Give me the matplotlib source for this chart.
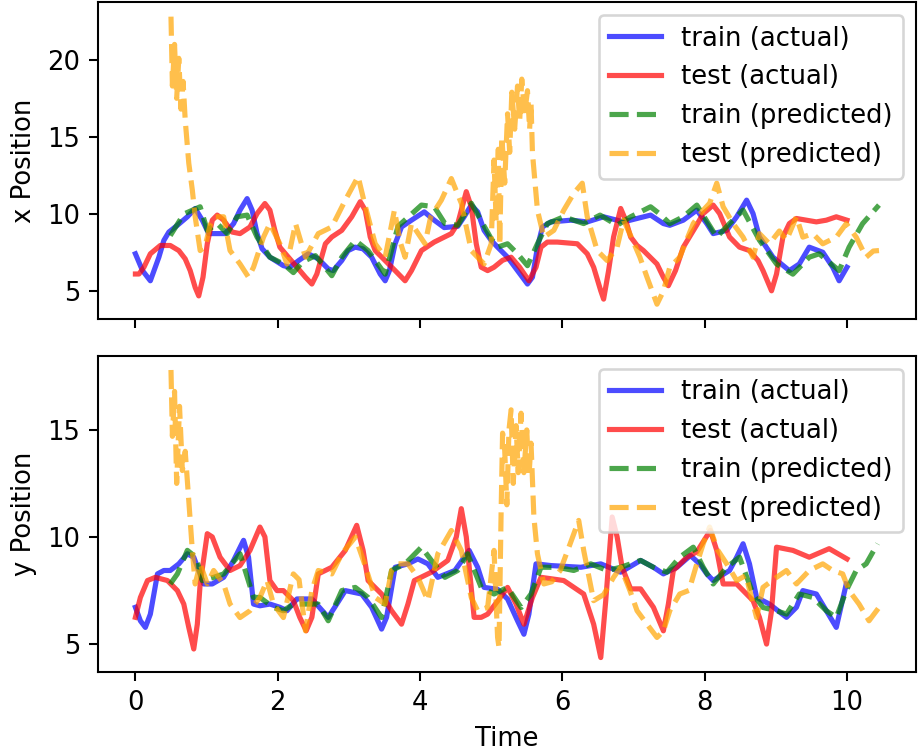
import matplotlib
matplotlib.use('Agg')
import matplotlib.pyplot as plt

###############################################################################
# Data
###############################################################################
# x position, train (actual)
t_x_train = [0.00, 0.10, 0.21, 0.33, 0.40, 0.47, 0.59, 0.73, 0.84, 0.94, 1.03,
             1.26, 1.38, 1.47, 1.57, 1.64, 1.71, 1.78, 1.89, 2.08, 2.17, 2.30,
             2.43, 2.57, 2.71, 2.78, 2.90, 2.99, 3.09, 3.20, 3.32, 3.44, 3.51,
             3.57, 3.65, 3.74, 3.88, 4.06, 4.20, 4.34, 4.53, 4.62, 4.72, 4.81,
             4.90, 5.00, 5.09, 5.23, 5.37, 5.51, 5.58, 5.65, 5.72, 5.84, 6.12,
             6.35, 6.58, 6.86, 7.05, 7.24, 7.42, 7.51, 7.70, 7.89, 8.03, 8.12,
             8.31, 8.45, 8.59, 8.68, 8.77, 8.96, 9.19, 9.33, 9.47, 9.66, 9.80,
             9.89, 10.00]
x_train = [7.42, 6.33, 5.67, 7.20, 8.29, 8.83, 9.27, 9.82, 10.36, 9.60, 8.73,
           8.73, 9.38, 10.25, 11.00, 10.25, 8.73, 7.75, 7.20, 6.65, 6.55, 7.00,
           7.42, 7.09, 6.44, 6.33, 6.98, 7.63, 7.85, 7.74, 7.20, 6.11, 5.67,
           6.33, 8.07, 9.16, 9.60, 10.14, 9.60, 9.12, 9.20, 9.82, 10.58, 10.14,
           8.94, 8.29, 7.85, 7.20, 6.33, 5.46, 5.90, 7.85, 9.16, 9.49, 9.60,
           9.49, 9.82, 9.49, 9.71, 9.93, 9.38, 9.27, 9.60, 10.25, 9.38, 8.73,
           8.94, 9.82, 10.90, 10.03, 8.51, 7.20, 6.33, 6.76, 7.85, 7.52, 6.55,
           5.67, 6.55]

# x position, test (actual)
t_x_test = [0.00, 0.05, 0.12, 0.21, 0.35, 0.49, 0.61, 0.70, 0.77, 0.84, 0.89,
            0.95, 1.01, 1.08, 1.15, 1.24, 1.36, 1.47, 1.61, 1.71, 1.82, 1.89,
            1.96, 2.03, 2.15, 2.28, 2.39, 2.48, 2.55, 2.67, 2.76, 2.90, 3.04,
            3.16, 3.23, 3.30, 3.37, 3.51, 3.65, 3.79, 3.88, 4.02, 4.20, 4.44,
            4.53, 4.65, 4.72, 4.79, 4.86, 4.95, 5.04, 5.16, 5.28, 5.40, 5.53,
            5.63, 5.70, 5.79, 5.93, 6.21, 6.35, 6.44, 6.54, 6.58, 6.65, 6.72,
            6.82, 6.89, 6.96, 7.05, 7.14, 7.33, 7.42, 7.49, 7.59, 7.70, 7.89,
            7.98, 8.12, 8.21, 8.35, 8.49, 8.63, 8.75, 8.82, 8.94, 9.01, 9.10,
            9.19, 9.29, 9.43, 9.57, 9.71, 9.85, 10.00]
x_test = [6.11, 6.11, 6.55, 7.42, 7.96, 7.96, 7.63, 7.09, 6.33, 5.24, 4.69,
          5.90, 8.07, 9.60, 9.93, 9.60, 8.83, 8.73, 9.16, 10.03, 10.68, 10.25,
          8.94, 7.85, 7.20, 6.50, 5.90, 5.46, 6.11, 8.07, 8.51, 8.94, 9.82,
          10.80, 10.25, 8.51, 7.63, 6.98, 6.33, 5.67, 6.33, 7.63, 8.18, 8.73,
          9.38, 11.45, 10.47, 8.07, 6.55, 6.33, 6.55, 7.00, 7.20, 6.55, 5.67,
          6.55, 7.85, 8.18, 8.18, 8.07, 7.42, 6.55, 5.02, 4.48, 6.33, 8.51,
          10.36, 9.60, 8.51, 7.96, 7.63, 6.76, 5.90, 5.35, 6.33, 7.85, 9.30,
          10.03, 10.58, 10.03, 8.51, 7.85, 7.63, 6.98, 6.33, 5.02, 6.11, 8.51,
          9.38, 9.71, 9.60, 9.49, 9.60, 9.82, 9.60]

# x position, train (predicted)
t_x_train_pred = [0.49, 0.68, 0.91, 1.01, 1.15, 1.29, 1.43, 1.57, 1.71, 1.89,
                  2.08, 2.22, 2.35, 2.53, 2.76, 2.90, 3.09, 3.27, 3.51, 3.69,
                  4.02, 4.20, 4.35, 4.53, 4.72, 5.00, 5.09, 5.23, 5.37, 5.51,
                  5.65, 5.79, 6.02, 6.30, 6.53, 6.77, 6.96, 7.24, 7.37, 7.51,
                  7.70, 7.89, 8.17, 8.35, 8.54, 8.77, 9.01, 9.24, 9.47, 9.61,
                  9.89, 10.03, 10.22, 10.45]
x_train_pred = [8.60, 10.00, 10.47, 8.94, 9.38, 8.73, 9.82, 9.93, 8.50, 7.20,
                6.76, 6.20, 6.90, 7.30, 6.00, 7.20, 8.29, 7.63, 6.10, 9.20,
                10.58, 10.47, 9.38, 9.27, 10.70, 8.40, 7.85, 8.07, 7.42, 6.65,
                8.07, 9.38, 9.82, 9.38, 9.93, 9.27, 9.82, 10.47, 10.00, 9.38,
                9.82, 10.58, 8.50, 9.38, 10.25, 8.30, 6.76, 6.10, 7.20, 7.42,
                6.33, 7.85, 9.38, 10.58]

# x position, test (predicted)
t_x_test_pred = [0.50, 0.52, 0.55, 0.58, 0.61, 0.64, 0.67, 0.70, 0.75, 0.80,
                 0.84, 0.91, 0.98, 1.05, 1.12, 1.24, 1.33, 1.47, 1.59, 1.66,
                 1.80, 1.89, 2.03, 2.13, 2.25, 2.39, 2.57, 2.76, 2.95, 3.13,
                 3.22, 3.37, 3.51, 3.64, 3.72, 3.79, 3.88, 4.07, 4.15, 4.30,
                 4.44, 4.58, 4.72, 4.90, 5.00, 5.04, 5.07, 5.10, 5.12, 5.15,
                 5.19, 5.23, 5.26, 5.29, 5.33, 5.37, 5.40, 5.43, 5.47, 5.51,
                 5.54, 5.56, 5.58, 5.65, 5.74, 5.88, 6.02, 6.16, 6.28, 6.35,
                 6.49, 6.63, 6.77, 6.86, 6.96, 7.09, 7.19, 7.33, 7.42, 7.51,
                 7.65, 7.84, 7.98, 8.07, 8.17, 8.26, 8.40, 8.54, 8.68, 8.77,
                 8.91, 9.05, 9.15, 9.29, 9.38, 9.52, 9.66, 9.85, 9.99, 10.13,
                 10.27, 10.37, 10.45]
x_test_pred = [22.8, 18.3, 21.0, 17.5, 20.1, 16.8, 18.6, 16.1, 13.3, 11.55,
               9.82, 7.63, 7.90, 9.30, 9.82, 9.82, 7.63, 6.76, 5.90, 6.55,
               8.50, 9.38, 8.07, 6.76, 9.38, 7.20, 8.73, 9.16, 10.90, 12.43,
               10.70, 8.07, 7.20, 10.25, 8.20, 7.20, 9.38, 8.07, 9.82, 10.90,
               12.30, 10.70, 7.63, 6.76, 8.07, 13.5, 9.5, 14.2, 8.0, 15.0,
               12.0, 16.5, 14.0, 17.9, 15.5, 18.3, 16.0, 18.75, 16.5, 18.0,
               15.5, 17.2, 13.95, 10.25, 8.50, 8.94, 10.25, 11.34, 12.00, 9.82,
               7.63, 6.98, 7.85, 9.60, 8.60, 7.20, 5.90, 4.15, 5.00, 6.55,
               7.20, 9.38, 10.25, 10.70, 12.00, 10.47, 9.38, 8.50, 7.20, 8.73,
               8.07, 8.90, 8.30, 9.82, 8.50, 8.73, 8.07, 8.50, 9.38, 8.50,
               7.20, 7.60, 7.63]

# y position, train (actual)
t_y_train = [0.00, 0.07, 0.14, 0.21, 0.31, 0.40, 0.49, 0.61, 0.73, 0.82, 0.89,
             0.96, 1.08, 1.24, 1.38, 1.52, 1.59, 1.66, 1.75, 1.89, 2.03, 2.13,
             2.27, 2.48, 2.71, 2.83, 2.95, 3.18, 3.32, 3.46, 3.53, 3.65, 3.83,
             3.97, 4.11, 4.25, 4.49, 4.69, 4.81, 4.90, 5.09, 5.23, 5.37, 5.46,
             5.53, 5.63, 5.84, 6.26, 6.54, 6.82, 7.10, 7.28, 7.42, 7.61, 7.80,
             7.93, 8.03, 8.12, 8.35, 8.45, 8.54, 8.63, 8.73, 8.91, 9.15, 9.29,
             9.38, 9.57, 9.71, 9.85, 9.99]
y_train = [6.71, 6.08, 5.77, 6.39, 8.27, 8.43, 8.43, 8.74, 9.21, 9.05, 8.43,
           7.80, 7.80, 8.11, 8.90, 9.84, 9.05, 6.86, 6.78, 6.86, 6.71, 6.55,
           7.10, 7.10, 6.24, 6.86, 7.49, 7.33, 6.71, 5.69, 6.24, 8.58, 8.74,
           8.97, 8.74, 8.11, 8.43, 9.37, 8.58, 7.64, 7.55, 7.10, 6.08, 5.45,
           6.39, 8.74, 8.66, 8.58, 8.74, 8.35, 8.90, 8.58, 8.27, 8.58, 9.13,
           8.74, 8.27, 7.96, 8.43, 9.05, 9.68, 8.74, 7.17, 6.86, 6.24, 6.71,
           7.49, 7.33, 6.55, 5.77, 7.80]

# y position, test (actual)
t_y_test = [0.00, 0.07, 0.17, 0.28, 0.45, 0.59, 0.68, 0.75, 0.82, 0.87, 0.91,
            1.01, 1.08, 1.19, 1.33, 1.47, 1.61, 1.75, 1.82, 1.89, 1.99, 2.08,
            2.22, 2.31, 2.40, 2.48, 2.57, 2.76, 2.95, 3.11, 3.20, 3.27, 3.46,
            3.60, 3.74, 3.83, 3.92, 4.16, 4.39, 4.51, 4.58, 4.65, 4.76, 4.86,
            4.95, 5.09, 5.23, 5.35, 5.46, 5.58, 5.70, 6.02, 6.30, 6.44, 6.54,
            6.61, 6.70, 6.77, 6.84, 6.96, 7.10, 7.28, 7.42, 7.49, 7.56, 7.75,
            7.89, 8.08, 8.17, 8.26, 8.45, 8.68, 8.77, 8.87, 8.94, 9.01, 9.24,
            9.47, 9.75, 10.00]
y_test = [6.24, 7.17, 7.96, 8.11, 7.96, 7.49, 6.86, 5.77, 4.76, 5.92, 7.80,
          10.15, 10.00, 9.05, 8.43, 8.66, 9.37, 10.46, 10.00, 7.96, 7.49, 7.49,
          7.02, 6.24, 5.61, 6.24, 8.27, 8.58, 9.37, 10.54, 9.37, 7.96, 7.33,
          6.55, 5.92, 6.86, 7.96, 8.35, 8.90, 10.00, 11.32, 10.00, 6.24, 6.24,
          6.39, 7.00, 7.64, 6.86, 5.92, 7.17, 8.11, 7.96, 7.33, 5.92, 4.36,
          7.02, 10.93, 10.00, 8.58, 7.57, 7.57, 6.71, 5.61, 6.86, 8.43, 9.05,
          9.30, 10.30, 9.37, 7.80, 7.80, 7.02, 6.24, 4.99, 6.55, 9.52, 9.37,
          9.05, 9.45, 8.97]

# y position, train (predicted)
t_y_train_pred = [0.49, 0.59, 0.73, 0.85, 0.94, 1.10, 1.24, 1.47, 1.66, 1.75,
                  1.94, 2.08, 2.22, 2.43, 2.57, 2.71, 2.90, 3.09, 3.27, 3.46,
                  3.60, 3.79, 4.02, 4.16, 4.35, 4.53, 4.67, 4.86, 5.04, 5.23,
                  5.42, 5.56, 5.70, 5.93, 6.16, 6.40, 6.63, 6.82, 7.10, 7.28,
                  7.47, 7.65, 7.84, 7.98, 8.12, 8.31, 8.49, 8.68, 8.82, 9.01,
                  9.15, 9.33, 9.52, 9.71, 9.85, 9.99, 10.13, 10.27, 10.43]
y_train_pred = [7.80, 8.27, 9.37, 9.05, 7.96, 8.11, 8.27, 9.21, 7.17, 7.17,
                6.70, 6.55, 6.86, 6.86, 6.86, 6.08, 7.49, 7.64, 7.17, 6.23,
                8.43, 8.74, 9.52, 8.90, 8.11, 8.43, 9.21, 7.64, 7.33, 7.64,
                6.70, 7.33, 8.58, 8.58, 8.43, 8.74, 8.43, 8.58, 8.90, 8.58,
                8.35, 9.05, 9.52, 8.58, 7.80, 8.58, 9.05, 7.33, 6.70, 6.55,
                6.39, 7.33, 7.17, 6.55, 6.23, 7.49, 8.43, 8.74, 9.68]

# y position, test (predicted)
t_y_test_pred = [0.50, 0.52, 0.55, 0.58, 0.62, 0.66, 0.70, 0.75, 0.80, 0.84,
                 0.91, 1.01, 1.10, 1.24, 1.33, 1.47, 1.61, 1.75, 1.85, 1.94,
                 2.08, 2.22, 2.30, 2.39, 2.48, 2.57, 2.76, 2.90, 3.09, 3.22,
                 3.37, 3.51, 3.60, 3.69, 3.83, 3.97, 4.11, 4.25, 4.44, 4.58,
                 4.72, 4.81, 4.95, 5.04, 5.09, 5.11, 5.14, 5.16, 5.19, 5.22,
                 5.25, 5.28, 5.31, 5.35, 5.38, 5.42, 5.46, 5.50, 5.53, 5.56,
                 5.60, 5.65, 5.74, 5.85, 5.97, 6.11, 6.23, 6.30, 6.44, 6.58,
                 6.72, 6.82, 6.95, 7.05, 7.19, 7.33, 7.42, 7.51, 7.65, 7.78,
                 7.89, 7.98, 8.07, 8.18, 8.31, 8.45, 8.58, 8.73, 8.82, 9.01,
                 9.15, 9.29, 9.47, 9.66, 9.80, 9.94, 10.03, 10.17, 10.31, 10.45]
y_test_pred = [17.8, 14.7, 16.8, 12.5, 16.1, 13.1, 14.0, 11.7, 9.37, 7.80,
               8.74, 7.80, 8.43, 7.80, 6.86, 6.23, 6.55, 7.17, 7.96, 6.86,
               6.23, 8.27, 8.00, 5.61, 7.49, 8.43, 8.27, 9.21, 9.99, 8.74,
               7.17, 6.86, 8.43, 8.74, 8.74, 8.11, 7.02, 9.21, 10.30, 9.37,
               7.17, 6.55, 6.70, 9.37, 5.30, 4.83, 11.24, 14.85, 14.06, 11.5,
               15.0, 15.94, 12.5, 15.2, 13.0, 15.78, 13.0, 15.0, 12.8, 14.38,
               10.93, 9.21, 7.80, 7.90, 8.43, 9.68, 10.77, 9.37, 7.02, 7.30,
               8.11, 8.58, 7.49, 6.55, 5.92, 5.30, 5.60, 6.55, 7.33, 7.50,
               8.74, 9.68, 10.46, 9.40, 8.74, 7.96, 8.20, 6.23, 7.64, 8.11,
               8.43, 7.80, 8.43, 8.74, 8.43, 8.27, 7.49, 6.86, 6.08, 6.70]

###############################################################################
# Figure
###############################################################################
dpi = 186
fig, axes = plt.subplots(2, 1, sharex=True, figsize=(918 / dpi, 755 / dpi), dpi=dpi)

panels = [
    (axes[0], 'x Position', (t_x_train, x_train), (t_x_test, x_test),
     (t_x_train_pred, x_train_pred), (t_x_test_pred, x_test_pred)),
    (axes[1], 'y Position', (t_y_train, y_train), (t_y_test, y_test),
     (t_y_train_pred, y_train_pred), (t_y_test_pred, y_test_pred)),
]

for ax, ylabel, tr, te, trp, tep in panels:
    ax.plot(tr[0], tr[1], color='blue', alpha=0.7, lw=2, label='train (actual)')
    ax.plot(te[0], te[1], color='red', alpha=0.7, lw=2, label='test (actual)')
    ax.plot(trp[0], trp[1], color='green', alpha=0.7, lw=2, ls='--',
            label='train (predicted)')
    ax.plot(tep[0], tep[1], color='orange', alpha=0.7, lw=2, ls='--',
            label='test (predicted)')
    ax.set_ylabel(ylabel)
    ax.legend(loc='upper right')

axes[1].set_xlabel('Time')
axes[0].set_yticks([5, 10, 15, 20])
axes[1].set_yticks([5, 10, 15])
axes[1].set_xticks([0, 2, 4, 6, 8, 10])

fig.subplots_adjust(left=0.107, right=0.998, top=0.997, bottom=0.110, hspace=0.117)
plt.savefig('out.png')
